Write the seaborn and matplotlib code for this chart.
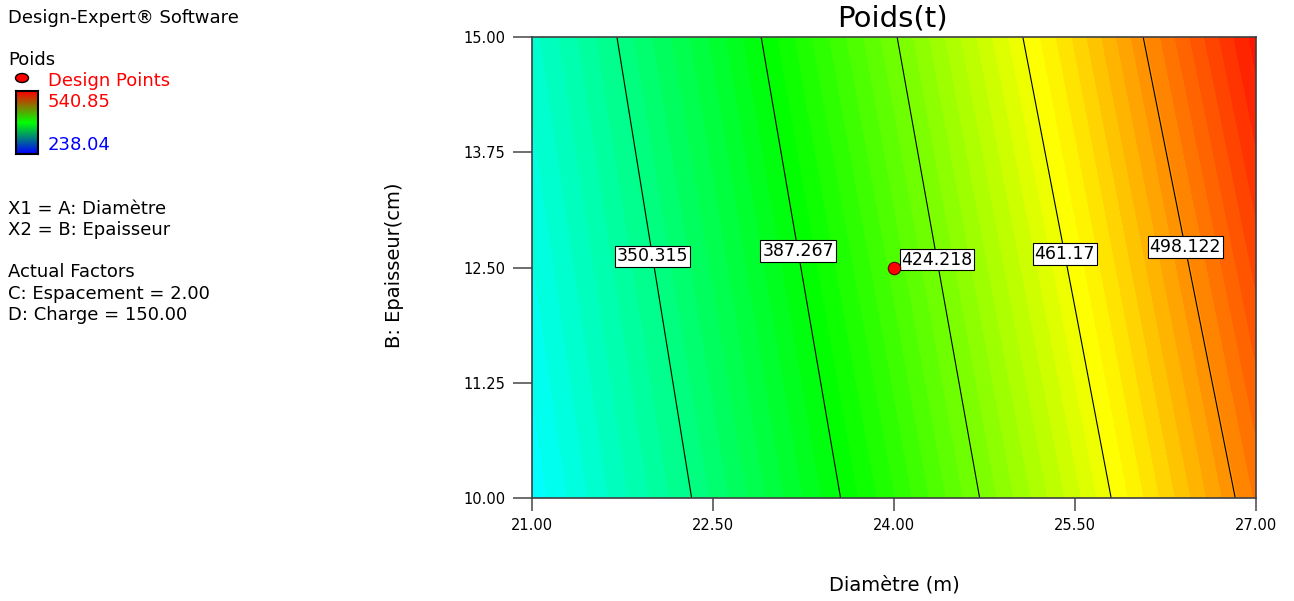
import numpy as np
import matplotlib
matplotlib.use("Agg")
import matplotlib.pyplot as plt
from matplotlib.colors import LinearSegmentedColormap
import seaborn as sns
import pandas as pd

# ---- data ----
diametre = [21.0, 22.5, 24.0, 25.5, 27.0]           # x grid (m)
epaisseur = [10.0, 15.0]                             # y grid (cm)
poids_at_10 = [313.8, 355.2, 400.7, 450.4, 504.3]    # response along y = 10
poids_at_15 = [329.2, 374.2, 423.3, 476.5, 533.9]    # response along y = 15
contour_levels = [350.315, 387.267, 424.218, 461.17, 498.122]
label_pos = [(22.09, 12.64), (23.25, 12.69), (24.38, 12.59), (25.23, 12.60), (26.44, 12.73)]
design_x = [24.0]
design_y = [12.5]
poids_min, poids_max = 238.04, 540.85
x_ticks = [21.0, 22.5, 24.0, 25.5, 27.0]
y_ticks = [10.0, 11.25, 12.5, 13.75, 15.0]

sns.set_style("white")
plt.rcParams['font.family'] = ['DejaVu Sans']
plt.rcParams['text.color'] = 'black'
plt.rcParams['xtick.labelcolor'] = 'black'
plt.rcParams['ytick.labelcolor'] = 'black'

W, H = 1294, 601
fig = plt.figure(figsize=(W / 100, H / 100), dpi=100)
ax = fig.add_axes([532 / W, 1 - 498 / H, (1256 - 532) / W, (498 - 37) / H])

X, Y = np.meshgrid(diametre, epaisseur)
Z = np.array([poids_at_10, poids_at_15])

de_cmap = LinearSegmentedColormap.from_list(
    "de", [(0.0, "#0000ff"), (0.25, "#00ffff"), (0.5, "#00ff00"),
           (0.75, "#ffff00"), (1.0, "#ff0000")])
fill_levels = np.linspace(poids_min, poids_max, 66)
ax.contourf(X, Y, Z, levels=fill_levels, cmap=de_cmap, vmin=poids_min, vmax=poids_max)
cs = ax.contour(X, Y, Z, levels=contour_levels, colors="black", linewidths=0.8)
labels = ax.clabel(cs, manual=label_pos, inline=False, fontsize=12.5,
                   fmt=lambda v: f"{v:g}")
for t in labels:
    t.set_rotation(0)
    t.set_color("black")
    t.set_bbox(dict(facecolor="white", edgecolor="black", pad=1.3, linewidth=0.8))
    t.set_zorder(5)

df = pd.DataFrame({"x": design_x, "y": design_y})
sns.scatterplot(data=df, x="x", y="y", ax=ax, color="#ff0000", edgecolor="#600000",
                s=80, linewidth=0.8, zorder=6, legend=False)

ax.set_xlim(21, 27)
ax.set_ylim(10, 15)
ax.set_xticks(x_ticks)
ax.set_yticks(y_ticks)
ax.set_xticklabels([f"{v:.2f}" for v in x_ticks])
ax.set_yticklabels([f"{v:.2f}" for v in y_ticks])
ax.tick_params(axis="x", direction="out", length=9.5, width=1.2, color="#555555",
               pad=5, labelsize=10.5, bottom=True, labelcolor="black")
ax.tick_params(axis="y", direction="out", length=14, width=1.2, color="#555555",
               pad=5, labelsize=10.5, left=True, labelcolor="black")
for s in ax.spines.values():
    s.set_color("#404040")
    s.set_linewidth(1.2)
ax.set_xlabel("")
ax.set_ylabel("")

fig.text(892 / W, 1 - 19 / H, "Poids(t)", fontsize=21, ha="center", va="center", color="black")
fig.text(894 / W, 1 - 585 / H, "Diamètre (m)", fontsize=14, ha="center", va="center", color="black")
fig.text(395 / W, 1 - 265 / H, "B: Epaisseur(cm)", fontsize=14, ha="center",
         va="center", rotation=90, color="black")

# ---- left info panel ----
def lt(x, y, s, color="black"):
    fig.text(x / W, 1 - y / H, s, fontsize=13, ha="left", va="center", color=color)

lt(8, 18, "Design-Expert® Software")
lt(8, 60, "Poids")
lt(48, 81, "Design Points", "#ff0000")
lt(48, 102, "540.85", "#ff0000")
lt(48, 145, "238.04", "#0000ff")
lt(8, 209, "X1 = A: Diamètre")
lt(8, 230, "X2 = B: Epaisseur")
lt(8, 272, "Actual Factors")
lt(8, 294, "C: Espacement = 2.00")
lt(8, 315, "D: Charge = 150.00")

fig.patches.append(matplotlib.patches.Ellipse((22 / W, 1 - 78 / H), 13 / W, 9 / H,
                   transform=fig.transFigure, facecolor="#ff0000",
                   edgecolor="black", linewidth=1.0))

cax = fig.add_axes([16 / W, 1 - 154 / H, 22 / W, 63 / H])
bar_cmap = LinearSegmentedColormap.from_list("bar", ["#0000ff", "#00ff00", "#ff0000"])
cax.imshow(np.linspace(0, 1, 100)[:, None], aspect="auto", cmap=bar_cmap, origin="lower")
cax.set_xticks([])
cax.set_yticks([])
for s in cax.spines.values():
    s.set_color("black")
    s.set_linewidth(1.5)

fig.savefig("out.png", dpi=100)
